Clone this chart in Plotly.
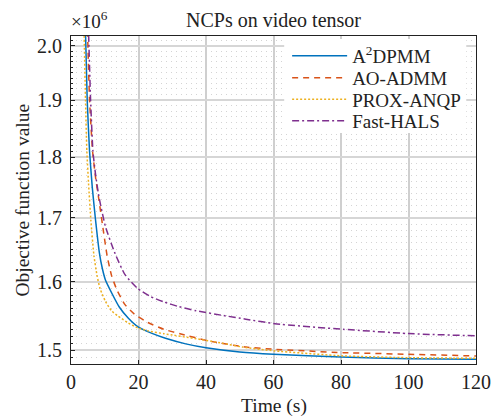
import math
import plotly.graph_objects as go

# ---- data (objective value in units of 1e6) ----
t_a2dpmm = [4.2, 4.8, 5.5, 6.3, 7.2, 8.4, 9.3, 10.2, 12.1, 14.3, 17, 20, 24, 28, 34, 40, 50, 60, 80, 100, 120]
v_a2dpmm = [2.05, 1.90, 1.81, 1.75, 1.70, 1.645, 1.62, 1.603, 1.583, 1.5625, 1.546, 1.533, 1.524, 1.517, 1.509, 1.5035, 1.4975, 1.4943, 1.4905, 1.488, 1.4872]

t_aoadmm = [4.8, 5.5, 6.4, 7.3, 8.25, 9.7, 10.7, 12, 13.6, 16, 18.8, 22.7, 27.5, 32.3, 41, 51.8, 60.4, 80.6, 100, 120]
v_aoadmm = [2.05, 1.90, 1.81, 1.765, 1.73, 1.675, 1.64, 1.61, 1.588, 1.566, 1.552, 1.540, 1.530, 1.5235, 1.513, 1.5045, 1.5013, 1.4966, 1.4943, 1.4919]

t_prox = [3.8, 4.3, 4.7, 5.2, 5.9, 6.8, 7.7, 8.6, 10.2, 12, 14, 17, 19.8, 23, 27.5, 37.1, 44.8, 50.8, 60.4, 80.6, 100, 120]
v_prox = [2.05, 1.90, 1.81, 1.756, 1.695, 1.64, 1.61, 1.59, 1.571, 1.557, 1.549, 1.539, 1.532, 1.5275, 1.5236, 1.5164, 1.510, 1.5045, 1.499, 1.492, 1.4894, 1.4886]

t_hals = [5.1, 5.8, 6.5, 7.3, 8.25, 10.2, 13.1, 16, 19.8, 23.6, 27.5, 32, 37.1, 44.8, 51.8, 60.4, 80.6, 100, 120]
v_hals = [2.05, 1.90, 1.81, 1.77, 1.735, 1.686, 1.643, 1.611, 1.590, 1.578, 1.570, 1.563, 1.557, 1.5503, 1.5447, 1.538, 1.530, 1.5238, 1.5205]

names = ["A<sup>2</sup>DPMM", "AO-ADMM", "PROX-ANQP", "Fast-HALS"]
colors = ["#0072BD", "#D95319", "#EDB120", "#7E2F8E"]
dashes = ["solid", "6px,5px", "2px,2px", "7px,3px,2px,3px"]

x_ticks = [0, 20, 40, 60, 80, 100, 120]
y_ticks = [1.5, 1.6, 1.7, 1.8, 1.9, 2.0]
y_tick_text = ["1.5", "1.6", "1.7", "1.8", "1.9", "2.0"]
y_half = [1.55, 1.65, 1.75, 1.85, 1.95]
y_minor = [round(1.48 + 0.01 * i, 2) for i in range(0, 55)]
y_minor = [v for v in y_minor if 1.48 <= v <= 2.02 and all(abs(v - m) > 1e-9 for m in y_ticks)]

FONT = "Liberation Serif, Times New Roman, serif"
TXT = "#222222"

# plot area geometry (px) used for placing legend entries
PL, PR, PT, PB = 71, 16, 36, 52
W, H = 503, 416
ph = H - PT - PB
pw = W - PL - PR
legend_rows_px = [56, 78, 99.5, 121]
legend_keys = ["legend", "legend2", "legend3", "legend4"]

fig = go.Figure()
series = [(t_a2dpmm, v_a2dpmm), (t_aoadmm, v_aoadmm), (t_prox, v_prox), (t_hals, v_hals)]
for (t, v), n, c, d, lk in zip(series, names, colors, dashes, legend_keys):
    fig.add_trace(go.Scatter(x=t, y=v, mode="lines", name=n, legend=lk,
                             line=dict(color=c, width=1.5, dash=d, shape="spline", smoothing=0.5)))

for yv in y_half:
    fig.add_shape(type="line", xref="paper", x0=0, x1=1, yref="y",
                  y0=math.log10(yv), y1=math.log10(yv),
                  line=dict(color="#ababab", width=1), layer="below")

# white legend box
fig.add_shape(type="rect", xref="paper", yref="paper",
              x0=(290 - PL) / pw, x1=(477 - PL) / pw,
              y0=(H - PB - 133) / ph, y1=(H - PB - 39) / ph,
              fillcolor="white", line=dict(width=0), layer="above")

legend_common = dict(xanchor="left", yanchor="middle", bgcolor="rgba(0,0,0,0)", borderwidth=0,
                     font=dict(family=FONT, size=19, color=TXT), itemwidth=55)
layout_legends = {}
for lk, ypx in zip(legend_keys, legend_rows_px):
    layout_legends[lk] = dict(x=(293 - PL) / pw, y=(H - PB - ypx) / ph, **legend_common)

fig.update_layout(
    width=W, height=H,
    margin=dict(l=PL, r=PR, t=PT, b=PB),
    paper_bgcolor="white", plot_bgcolor="white",
    font=dict(family=FONT, size=19, color=TXT),
    showlegend=True,
    xaxis=dict(range=[0, 120], tickvals=x_ticks, ticks="inside", ticklen=4,
               tickcolor=TXT, showline=True, linecolor=TXT, linewidth=1, mirror=True,
               showgrid=True, gridcolor="#cfcfcf", gridwidth=1.5, zeroline=False,
               tickfont=dict(family=FONT, size=20, color=TXT)),
    yaxis=dict(type="log", range=[math.log10(1.4806), math.log10(2.0186)],
               tickvals=y_ticks, ticktext=y_tick_text, ticks="inside", ticklen=4,
               tickcolor=TXT, showline=True, linecolor=TXT, linewidth=1, mirror=True,
               showgrid=True, gridcolor="#d6d6d6", gridwidth=2, zeroline=False,
               ticklabelstandoff=4,
               tickfont=dict(family=FONT, size=20, color=TXT),
               minor=dict(tickvals=y_minor, ticks="inside", ticklen=2, tickcolor=TXT,
                          showgrid=True, gridcolor="#d4d4d4", gridwidth=1, griddash="1px,4px")),
    annotations=[
        dict(text="NCPs on video tensor", xref="paper", yref="paper", x=0.5, y=1.049,
             xanchor="center", yanchor="middle", showarrow=False,
             font=dict(family=FONT, size=20, color=TXT)),
        dict(text="\u00d710<sup>6</sup>", xref="paper", yref="paper", x=-0.004, y=1.049,
             xanchor="left", yanchor="middle", showarrow=False,
             font=dict(family=FONT, size=19, color=TXT)),
        dict(text="Time (s)", xref="paper", yref="paper", x=0.5, y=-0.127,
             xanchor="center", yanchor="middle", showarrow=False,
             font=dict(family=FONT, size=19.5, color=TXT)),
        dict(text="Objective function value", xref="paper", yref="paper", x=-0.122, y=0.5,
             xanchor="center", yanchor="middle", textangle=-90, showarrow=False,
             font=dict(family=FONT, size=19.5, color=TXT)),
    ],
    **layout_legends,
)

fig.write_html("out.html")
